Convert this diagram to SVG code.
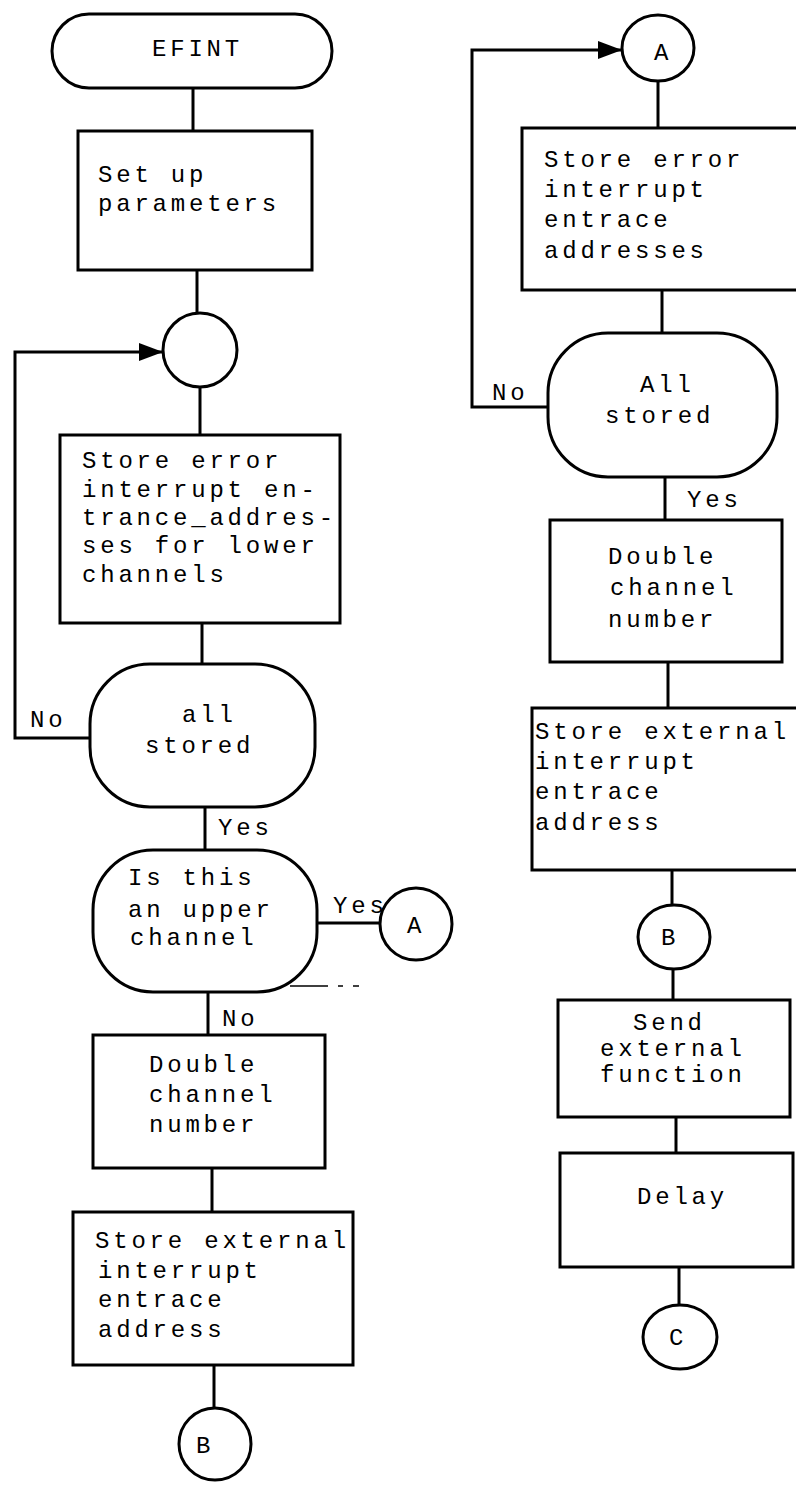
<svg xmlns="http://www.w3.org/2000/svg" width="796" height="1503" viewBox="0 0 796 1503">
<style>
.s{fill:#fff;stroke:#000;stroke-width:3}
.c{fill:none;stroke:#000;stroke-width:3}
.t{font-family:"Liberation Mono","Courier New",monospace;font-size:24px;letter-spacing:3.8px;fill:#000}
.m{text-anchor:middle}
.d{fill:none;stroke:#000;stroke-width:1.5}
</style>
<defs>
<marker id="ah" markerWidth="8" markerHeight="6" refX="8" refY="3" orient="auto" markerUnits="strokeWidth">
<path d="M0,0 L8,3 L0,6 Z" fill="#000"/>
</marker>
</defs>
<rect width="796" height="1503" fill="#fff"/>
<g id="connectors">
<path class="c" d="M193 88 V131"/>
<path class="c" d="M197 270 V313"/>
<path class="c" d="M200 388 V435"/>
<path class="c" d="M202 623 V664"/>
<path class="c" d="M90 738 H15 V352 H163" marker-end="url(#ah)"/>
<path class="c" d="M205 807 V850"/>
<path class="c" d="M317 923 H380"/>
<path class="c" d="M208 992 V1035"/>
<path class="c" d="M212 1168 V1212"/>
<path class="c" d="M214 1365 V1408"/>
<path class="c" d="M658 81 V128"/>
<path class="c" d="M662 290 V333"/>
<path class="c" d="M550 407 H472 V50 H622" marker-end="url(#ah)"/>
<path class="c" d="M665 477 V520"/>
<path class="c" d="M668 662 V708"/>
<path class="c" d="M672 870 V905"/>
<path class="c" d="M673 969 V1000"/>
<path class="c" d="M676 1117 V1153"/>
<path class="c" d="M679 1267 V1305"/>
<text class="t" x="30" y="727">No</text>
<text class="t" x="218" y="835">Yes</text>
<text class="t" x="333" y="913">Yes</text>
<text class="t" x="222" y="1026">No</text>
<text class="t" x="492" y="400">No</text>
<text class="t" x="687" y="507">Yes</text>
</g>
<g id="marks">
<path class="d" d="M282 905 L302 901"/>
<path class="d" d="M290 986 H362" stroke-dasharray="38 10 5 10 6"/>
</g>
<g id="efint">
<rect class="s" x="52" y="14" width="280" height="74" rx="37"/>
<text class="t" x="152" y="56">EFINT</text>
</g>
<g id="setup">
<rect class="s" x="78" y="131" width="234" height="139"/>
<text class="t" x="98" y="182">Set up</text>
<text class="t" x="98" y="211">parameters</text>
</g>
<g id="junction">
<circle class="s" cx="200" cy="350" r="37"/>
</g>
<g id="storeErrorLower">
<rect class="s" x="60" y="435" width="280" height="188"/>
<text class="t" x="82" y="468">Store error</text>
<text class="t" x="82" y="497">interrupt en-</text>
<text class="t" x="82" y="525">trance_addres-</text>
<text class="t" x="82" y="553">ses for lower</text>
<text class="t" x="82" y="582">channels</text>
</g>
<g id="allStored1">
<rect class="s" x="90" y="664" width="225" height="143" rx="60"/>
<text class="t" x="182" y="722">all</text>
<text class="t" x="145" y="753">stored</text>
</g>
<g id="upperChannel">
<rect class="s" x="93" y="850" width="224" height="142" rx="60"/>
<text class="t" x="128" y="885">Is this</text>
<text class="t" x="128" y="917">an upper</text>
<text class="t" x="130" y="945">channel</text>
</g>
<g id="connA1">
<circle class="s" cx="416" cy="924" r="36"/>
<text class="t" x="407" y="933">A</text>
</g>
<g id="double1">
<rect class="s" x="93" y="1035" width="232" height="133"/>
<text class="t" x="149" y="1072">Double</text>
<text class="t" x="149" y="1102">channel</text>
<text class="t" x="149" y="1132">number</text>
</g>
<g id="storeExt1">
<rect class="s" x="73" y="1212" width="280" height="153"/>
<text class="t" x="95" y="1248">Store external</text>
<text class="t" x="98" y="1278">interrupt</text>
<text class="t" x="98" y="1307">entrace</text>
<text class="t" x="98" y="1337">address</text>
</g>
<g id="connB1">
<circle class="s" cx="215" cy="1444" r="36"/>
<text class="t" x="196" y="1453">B</text>
</g>
<g id="connA2">
<ellipse class="s" cx="658" cy="48" rx="36" ry="33"/>
<text class="t" x="654" y="60">A</text>
</g>
<g id="storeErrorUpper">
<rect class="s" x="522" y="128" width="290" height="162"/>
<text class="t" x="544" y="167">Store error</text>
<text class="t" x="544" y="197">interrupt</text>
<text class="t" x="544" y="227">entrace</text>
<text class="t" x="544" y="258">addresses</text>
</g>
<g id="allStored2">
<rect class="s" x="548" y="333" width="229" height="144" rx="60"/>
<text class="t" x="640" y="392">All</text>
<text class="t" x="605" y="423">stored</text>
</g>
<g id="double2">
<rect class="s" x="550" y="520" width="232" height="142"/>
<text class="t" x="608" y="564">Double</text>
<text class="t" x="610" y="595">channel</text>
<text class="t" x="608" y="627">number</text>
</g>
<g id="storeExt2">
<rect class="s" x="532" y="708" width="280" height="162"/>
<text class="t" x="535" y="739">Store external</text>
<text class="t" x="535" y="769">interrupt</text>
<text class="t" x="535" y="799">entrace</text>
<text class="t" x="535" y="830">address</text>
</g>
<g id="connB2">
<ellipse class="s" cx="674" cy="937" rx="36" ry="32"/>
<text class="t" x="661" y="945">B</text>
</g>
<g id="send">
<rect class="s" x="558" y="1000" width="232" height="117"/>
<text class="t" x="633" y="1030">Send</text>
<text class="t" x="600" y="1056">external</text>
<text class="t" x="600" y="1082">function</text>
</g>
<g id="delay">
<rect class="s" x="560" y="1153" width="233" height="114"/>
<text class="t" x="637" y="1204">Delay</text>
</g>
<g id="connC">
<ellipse class="s" cx="680" cy="1337" rx="37" ry="32"/>
<text class="t" x="669" y="1345">C</text>
</g>
</svg>
